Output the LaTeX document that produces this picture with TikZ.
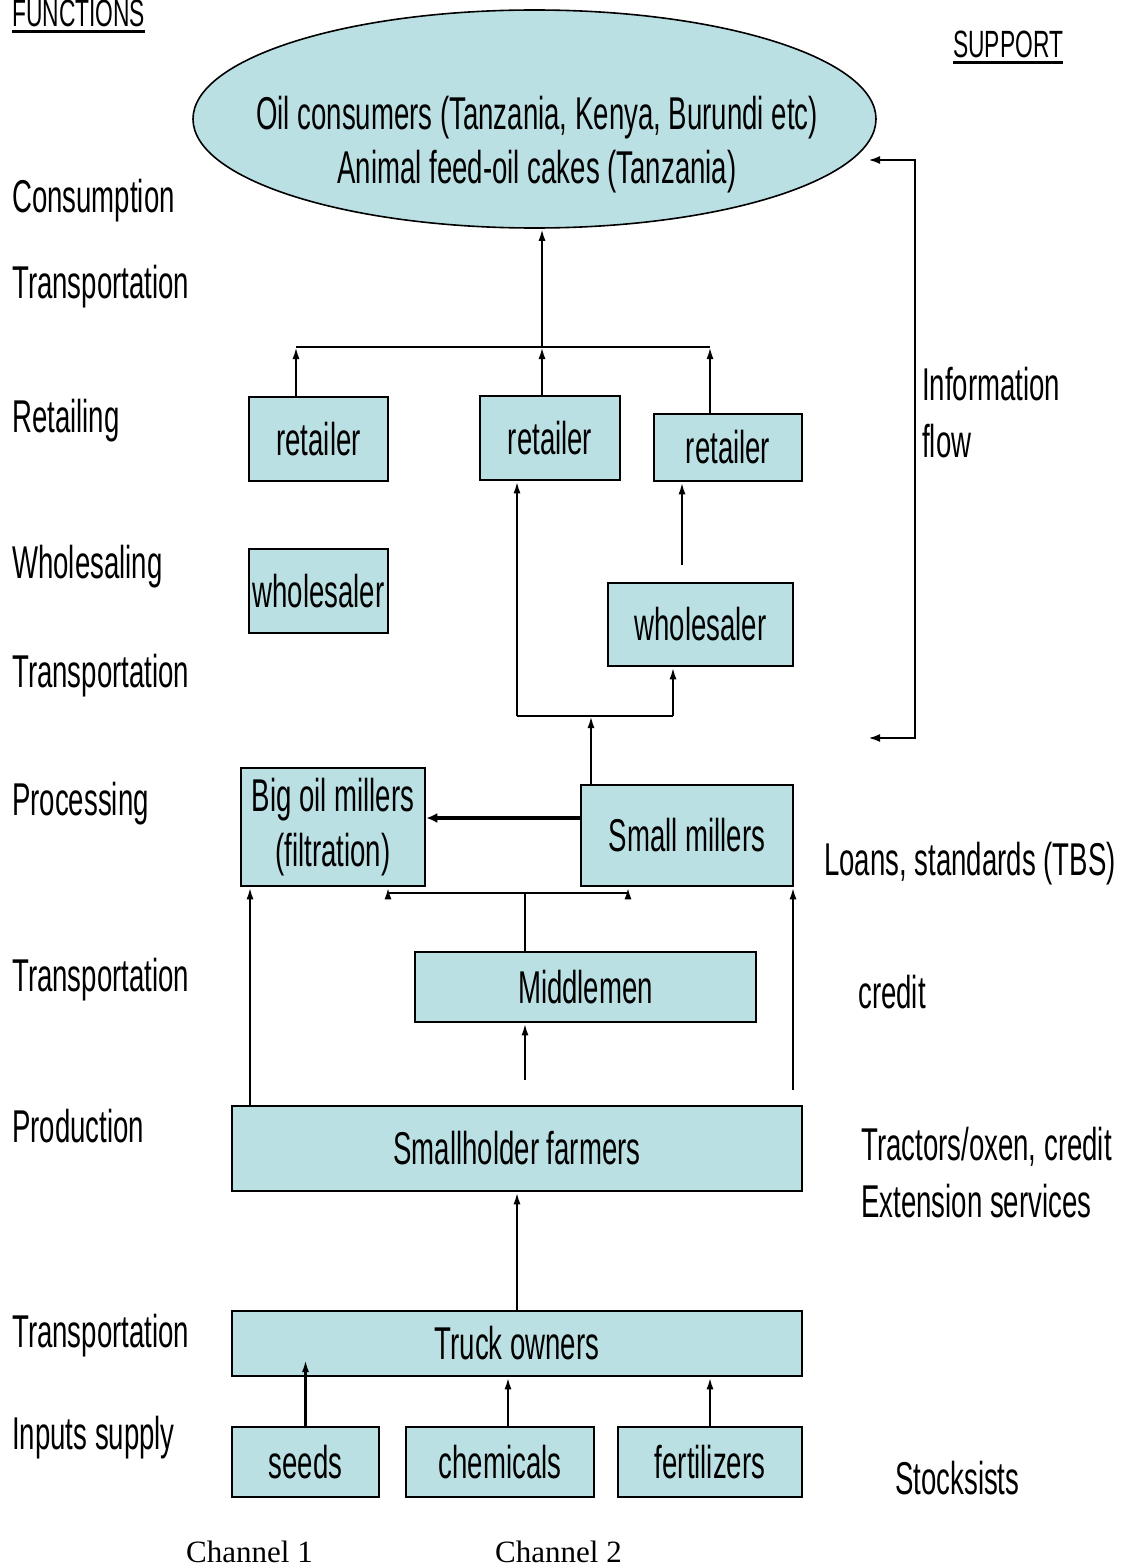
\documentclass[tikz,border=0pt]{standalone}
\usepackage{fontspec}
\setmainfont[FakeStretch=0.6]{Liberation Sans}
\newfontfamily\chanfont{Liberation Serif}
\usetikzlibrary{arrows.meta,shapes.geometric}
\definecolor{boxfill}{RGB}{187,224,227}
\begin{document}
\begin{tikzpicture}[x=1pt,y=-1pt,
  font=\fontsize{46}{55}\selectfont,
  box/.style={draw, line width=2.6pt, fill=boxfill, inner sep=0pt},
  conn/.style={line width=2.2pt, -{Latex[length=12pt,width=7pt]}},
  plain/.style={line width=2.2pt},
  lbl/.style={anchor=base west, inner sep=0pt},
  hdr/.style={anchor=base west, inner sep=0pt, font=\fontsize{38}{44}\selectfont}]
\useasboundingbox (0,0) rectangle (1122,1568);

% headers
\node[hdr] (fn) at (12,27) {FUNCTIONS};
\draw[line width=2.4pt] ([yshift=-4pt]fn.south west) -- ([yshift=-4pt]fn.south east);
\node[hdr] (sp) at (953,58) {SUPPORT};
\draw[line width=2.4pt] ([yshift=-4pt]sp.south west) -- ([yshift=-4pt]sp.south east);

% left function labels
\node[lbl] (f1) at (12,212) {Consumption};
\node[lbl] (f2) at (12,298) {Transportation};
\node[lbl] (f3) at (12,432) {Retailing};
\node[lbl] (f4) at (12,578) {Wholesaling};
\node[lbl] (f5) at (12,687) {Transportation};
\node[lbl] (f6) at (12,815) {Processing};
\node[lbl] (f7) at (12,991) {Transportation};
\node[lbl] (f8) at (12,1142) {Production};
\node[lbl] (f9) at (12,1347) {Transportation};
\node[lbl] (f10) at (12,1449) {Inputs supply};

% right support labels
\node[lbl] (s1) at (922,400) {Information};
\node[lbl] (s2) at (922,457) {flow};
\node[lbl] (s3) at (824,875) {Loans, standards (TBS)};
\node[lbl] (s4) at (858,1008) {credit};
\node[lbl] (s5) at (861,1160) {Tractors/oxen, credit};
\node[lbl] (s6) at (861,1217) {Extension services};
\node[lbl] (s7) at (895,1494) {Stocksists};

% channel labels
\node[lbl, font=\chanfont\fontsize{31}{37}\selectfont] (c1) at (186,1562) {Channel 1};
\node[lbl, font=\chanfont\fontsize{31}{37}\selectfont] (c2) at (495,1562) {Channel 2};

% consumers ellipse
\node[ellipse, draw, line width=1.6pt, fill=boxfill, minimum width=683pt, minimum height=218pt, inner sep=0pt] (cons) at (534.5,119) {};
\node[align=center, inner sep=0pt, font=\fontsize{46}{54}\selectfont] (constext) at (537,145) {Oil consumers (Tanzania, Kenya, Burundi etc)\\Animal feed-oil cakes (Tanzania)};

% boxes
\node[box, minimum width=139pt, minimum height=84pt] (r1) at (318.5,439) {retailer};
\node[box, minimum width=140pt, minimum height=84pt] (r2) at (550,438) {retailer};
\node[box, minimum width=148pt, minimum height=67pt] (r3) at (728,447.5) {retailer};
\node[box, minimum width=139pt, minimum height=84pt] (w1) at (318.5,591) {wholesaler};
\node[box, minimum width=185pt, minimum height=83pt] (w2) at (700.5,624.5) {wholesaler};
\node[box, minimum width=184pt, minimum height=118pt, align=center] (big) at (333,827) {Big oil millers\\(filtration)};
\node[box, minimum width=212pt, minimum height=101pt] (small) at (687,835.5) {Small millers};
\node[box, minimum width=341pt, minimum height=70pt] (mid) at (585.5,987) {Middlemen};
\node[box, minimum width=570pt, minimum height=85pt] (farm) at (517,1148.5) {Smallholder farmers};
\node[box, minimum width=570pt, minimum height=65pt] (truck) at (517,1343.5) {Truck owners};
\node[box, minimum width=147pt, minimum height=70pt] (seeds) at (305.5,1462) {seeds};
\node[box, minimum width=188pt, minimum height=70pt] (chem) at (500,1462) {chemicals};
\node[box, minimum width=184pt, minimum height=70pt] (fert) at (710,1462) {fertilizers};

% retail bus to consumers
\coordinate (busL) at (296,347);
\coordinate (busM) at (542,347);
\coordinate (busR) at (710,347);
\draw[plain] (busL) -- (busR);
\draw[conn] (r1.north -| busL) -- (busL);
\draw[conn] (r2.north -| busM) -- (busM);
\draw[conn] (r3.north -| busR) -- (busR);
\draw[conn] (busM) -- (cons.south -| busM);

% small millers to retail / wholesale
\coordinate (bus2L) at (517,716);
\coordinate (bus2M) at (591,716);
\coordinate (bus2R) at (673,716);
\draw[plain] (bus2L) -- (bus2R);
\draw[conn] (bus2L) -- (r2.south -| bus2L);
\draw[conn] (bus2R) -- (w2.south -| bus2R);
\draw[conn] (small.north -| bus2M) -- (bus2M);
\coordinate (w2up) at (682,565);
\draw[conn] (w2up) -- (r3.south -| w2up);

% small millers to big oil millers
\coordinate (thk) at (0,818);
\draw[line width=4.5pt, -{Latex[length=11pt,width=10pt]}] (small.west |- thk) -- (big.east |- thk);

% middlemen to millers
\coordinate (bus3L) at (388,893);
\coordinate (bus3M) at (525,893);
\coordinate (bus3R) at (628,893);
\draw[plain] (bus3L) -- (bus3R);
\draw[conn] (bus3L) -- (big.south -| bus3L);
\draw[conn] (bus3R) -- (small.south -| bus3R);
\draw[plain] (mid.north -| bus3M) -- (bus3M);
\coordinate (midin) at (525,1080);
\draw[conn] (midin) -- (mid.south -| midin);

% farmers to millers
\coordinate (leftx) at (250,0);
\draw[conn] (farm.north -| leftx) -- (big.south -| leftx);
\coordinate (rightin) at (793,1090);
\draw[conn] (rightin) -- (small.south -| rightin);

% trucks to farmers
\draw[conn] (truck.north) -- (farm.south);

% inputs to trucks
\coordinate (seedtip) at (305.5,1360);
\draw[conn] (seeds.north) -- (seedtip);
\coordinate (cx) at (508,0);
\draw[conn] (chem.north -| cx) -- (truck.south -| cx);
\draw[conn] (fert.north) -- (truck.south -| fert.north);

% information flow bracket
\coordinate (infoT) at (868,160);
\coordinate (brT) at (915,160);
\coordinate (brB) at (915,738);
\coordinate (infoB) at (868,738);
\draw[line width=2.4pt, {Latex[length=12pt,width=8pt]}-{Latex[length=12pt,width=8pt]}] (infoT) -- (brT) -- (brB) -- (infoB);
\end{tikzpicture}
\end{document}
